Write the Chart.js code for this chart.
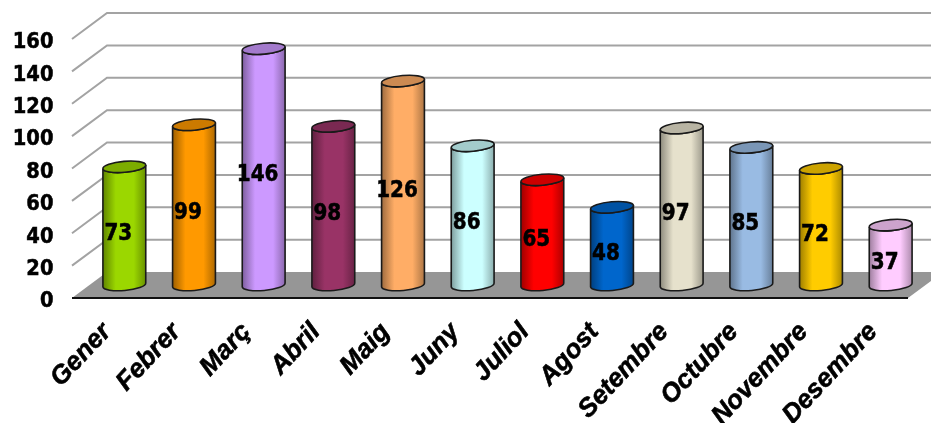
<!DOCTYPE html>
<html>
<head>
<meta charset="utf-8">
<style>
  html, body { margin: 0; padding: 0; background: #fff; overflow: hidden; }
  canvas { display: block; }
</style>
<script src="https://cdn.jsdelivr.net/npm/chart.js@4"></script>
</head>
<body>
<canvas id="chart" width="931" height="423"></canvas>
<script>
const months = ['Gener', 'Febrer', 'Març', 'Abril', 'Maig', 'Juny', 'Juliol', 'Agost', 'Setembre', 'Octubre', 'Novembre', 'Desembre'];
const values = [73, 99, 146, 98, 126, 86, 65, 48, 97, 85, 72, 37];
const barColors = ['#9BD700', '#FF9900', '#CC99FF', '#993366', '#FFAD66', '#CCFFFF', '#FF0000', '#0066CC', '#E6E1CC', '#99BBE3', '#FFCC00', '#FFCCFF'];

// depth of the fake 3d box
const depthX = 35;
const depthY = 26;
const radiusX = 21.5;
const radiusY = 5.5;
const tilt = -5 * Math.PI / 180;

function shade(hex, f) {
  const n = parseInt(hex.slice(1), 16);
  const r = Math.round((n >> 16 & 255) * f);
  const g = Math.round((n >> 8 & 255) * f);
  const b = Math.round((n & 255) * f);
  return `rgb(${r},${g},${b})`;
}

// stretched bold text, the original labels are a bit taller than wide
function tallText(ctx, text, x, y, stretch) {
  ctx.save();
  ctx.translate(x, y);
  ctx.scale(1, stretch);
  ctx.fillText(text, 0, 0);
  ctx.strokeText(text, 0, 0);
  ctx.restore();
}

const box3d = {
  id: 'box3d',
  beforeDatasetsDraw(chart) {
    const { ctx, chartArea: area, scales: { y } } = chart;
    ctx.save();
    // floor
    ctx.fillStyle = '#969696';
    ctx.beginPath();
    ctx.moveTo(area.left, area.bottom);
    ctx.lineTo(area.left + depthX, area.bottom - depthY);
    ctx.lineTo(area.right + depthX, area.bottom - depthY);
    ctx.lineTo(area.right, area.bottom);
    ctx.closePath();
    ctx.fill();
    // side and back grid lines
    ctx.strokeStyle = '#a3a3a3';
    ctx.lineWidth = 2;
    y.ticks.forEach(t => {
      if (t.value === 0) return;
      const py = y.getPixelForValue(t.value);
      ctx.beginPath();
      ctx.moveTo(area.left, py);
      ctx.lineTo(area.left + depthX, py - depthY);
      ctx.lineTo(area.right + depthX, py - depthY);
      ctx.stroke();
    });
    // front edge of floor
    ctx.strokeStyle = '#111';
    ctx.beginPath();
    ctx.moveTo(area.left, area.bottom);
    ctx.lineTo(area.right, area.bottom);
    ctx.stroke();
    // y tick labels, chart.js can't nudge them down so they are drawn here
    ctx.fillStyle = '#000';
    ctx.strokeStyle = '#000';
    ctx.lineWidth = 0.5;
    ctx.font = 'bold 19.5px "DejaVu Sans"';
    ctx.textAlign = 'right';
    ctx.textBaseline = 'middle';
    y.ticks.forEach(t => {
      tallText(ctx, String(t.value), area.left - 18.5, y.getPixelForValue(t.value) + 4, 1.06);
    });
    ctx.restore();
  },
  afterDatasetsDraw(chart) {
    const { ctx } = chart;
    const meta = chart.getDatasetMeta(0);
    const ex = radiusX * Math.cos(tilt);
    const ey = radiusX * Math.sin(tilt);
    meta.data.forEach((bar, i) => {
      const cx = bar.x + depthX / 2;
      const top = bar.y - depthY / 2;
      const bottom = bar.base - depthY / 2;
      const col = barColors[i];
      const grad = ctx.createLinearGradient(cx - radiusX, 0, cx + radiusX, 0);
      grad.addColorStop(0, shade(col, 0.62));
      grad.addColorStop(0.3, col);
      grad.addColorStop(0.72, col);
      grad.addColorStop(1, shade(col, 0.68));

      ctx.save();
      ctx.strokeStyle = '#1a1a1a';
      ctx.lineWidth = 1.6;
      ctx.fillStyle = grad;
      ctx.beginPath();
      ctx.moveTo(cx - ex, top - ey);
      ctx.lineTo(cx - ex, bottom - ey);
      ctx.ellipse(cx, bottom, radiusX, radiusY, tilt, Math.PI, 0, true);
      ctx.lineTo(cx + ex, top + ey);
      ctx.ellipse(cx, top, radiusX, radiusY, tilt, 0, Math.PI, false);
      ctx.closePath();
      ctx.fill();
      ctx.stroke();
      // lid
      ctx.fillStyle = shade(col, 0.8);
      ctx.beginPath();
      ctx.ellipse(cx, top, radiusX, radiusY, tilt, 0, Math.PI * 2);
      ctx.fill();
      ctx.stroke();
      ctx.restore();
    });
    // value labels go on top of everything
    ctx.save();
    ctx.fillStyle = '#000';
    ctx.strokeStyle = '#000';
    ctx.lineWidth = 0.5;
    ctx.font = 'bold 20px "DejaVu Sans"';
    ctx.textAlign = 'center';
    ctx.textBaseline = 'middle';
    meta.data.forEach((bar, i) => {
      const cx = bar.x + depthX / 2 - 6;
      const cy = (bar.y + bar.base) / 2 - depthY / 2 + 8;
      tallText(ctx, String(values[i]), cx, cy, 1.12);
    });
    ctx.restore();
  }
};

new Chart(document.getElementById('chart'), {
  type: 'bar',
  data: {
    labels: months,
    datasets: [{ data: values, backgroundColor: 'transparent', borderWidth: 0 }]
  },
  options: {
    responsive: false,
    animation: false,
    devicePixelRatio: 1,
    layout: { padding: { top: 0, right: 23, bottom: 0, left: 0 } },
    plugins: { legend: { display: false }, title: { display: false }, tooltip: { enabled: false } },
    scales: {
      x: {
        grid: { display: false, drawTicks: false },
        border: { display: false },
        afterFit(scale) { scale.height = 125; },
        ticks: {
          autoSkip: false,
          minRotation: 47,
          maxRotation: 47,
          padding: 19,
          color: '#000',
          textStrokeColor: '#000',
          textStrokeWidth: 0.6,
          font: { family: '"Liberation Sans"', size: 26, weight: 'bold', style: 'italic' }
        }
      },
      y: {
        min: 0,
        max: 160,
        grid: { display: false, drawTicks: false },
        border: { display: false },
        afterFit(scale) { scale.width = 72; scale.paddingTop = 39; },
        ticks: { display: false, stepSize: 20 }
      }
    }
  },
  plugins: [box3d]
});
</script>
</body>
</html>
